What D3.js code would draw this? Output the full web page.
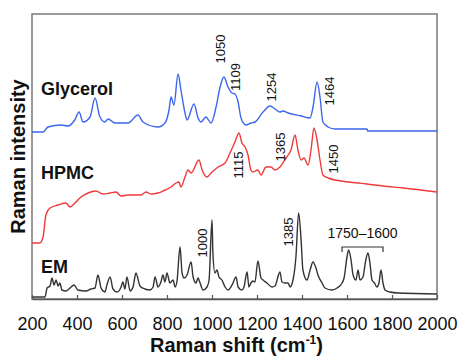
<!DOCTYPE html>
<html>
<head>
<meta charset="utf-8">
<script src="https://cdn.jsdelivr.net/npm/d3@7"></script>
<style>
body { margin: 0; background: #fff; }
text { font-family: Arial, "Liberation Sans", sans-serif; fill: #111; }
</style>
</head>
<body>
<div id="chart"></div>
<script>
// Raman spectra, intensities in arbitrary units (spectra offset for display)
var xTicks = [200, 400, 600, 800, 1000, 1200, 1400, 1600, 1800, 2000];

var glycerol = [[200,167],[250,167],[271,172],[329,174],[360,173],[390,179],[409,187],[427,177],[458,182],[480,201],
  [502,182],[524,177],[538,180],[569,176],[627,176],[671,184],[693,177],[760,172],[791,176],[809,189],[818,202],
  [831,194],[849,225],[862,209],[880,186],[889,179],[920,195],[938,181],[951,177],[973,182],[996,176],[1018,192],
  [1036,212],[1053,222],[1071,212],[1089,206],[1102,205],[1116,197],[1129,181],[1151,174],[1173,176],[1191,177],
  [1227,187],[1258,193],[1280,190],[1302,187],[1316,188],[1338,186],[1396,183],[1436,181],[1449,192],[1467,217],
  [1480,202],[1493,177],[1516,172],[1547,170],[1689,170],[1692,168],[2000,168]];

var hpmc = [[200,56],[235,56],[249,62],[262,84],[280,91],[316,94],[351,96],[369,92],[391,96],[418,102],[449,106],
  [484,108],[516,105],[547,106],[573,107],[596,103],[627,104],[658,104],[684,104],[707,107],[729,105],[760,106],
  [791,109],[818,112],[840,116],[853,117],[862,112],[880,122],[893,129],[907,126],[942,139],[956,129],[978,122],
  [996,126],[1027,132],[1058,136],[1080,146],[1102,157],[1120,166],[1133,156],[1147,152],[1160,144],[1173,129],
  [1182,127],[1204,129],[1218,124],[1240,132],[1262,132],[1280,129],[1302,132],[1329,141],[1351,149],[1369,164],
  [1382,149],[1396,139],[1409,141],[1427,134],[1440,149],[1453,171],[1467,159],[1480,139],[1493,124],[1516,121],
  [1573,118],[1649,116],[1689,115],[1760,113],[1850,111],[2000,107]];

var em = [[200,2],[258,2],[267,11],[280,13],[289,21],[298,14],[307,19],[316,13],[324,16],[333,9],[351,8],[369,11],
  [387,14],[404,9],[440,8],[462,10],[480,11],[493,24],[507,11],[524,7],[533,14],[547,22],[560,10],[578,7],[596,12],
  [604,17],[613,10],[622,22],[636,8],[649,12],[662,26],[680,13],[702,10],[724,9],[738,12],[747,22],[760,12],
  [773,17],[782,24],[791,17],[800,26],[813,16],[827,19],[836,12],[844,17],[858,52],[867,26],[876,21],[889,24],
  [907,37],[916,22],[929,16],[938,21],[947,16],[960,9],[978,12],[987,19],[1000,79],[1004,46],[1013,26],[1022,29],
  [1031,22],[1044,19],[1058,12],[1071,9],[1089,14],[1107,22],[1116,12],[1133,9],[1142,12],[1156,27],[1164,12],
  [1173,16],[1182,18],[1191,17],[1204,38],[1218,21],[1227,19],[1244,16],[1267,12],[1280,13],[1302,27],[1311,17],
  [1324,16],[1338,16],[1347,12],[1360,19],[1373,42],[1385,86],[1396,59],[1404,29],[1422,19],[1436,29],[1449,37],
  [1462,31],[1471,24],[1489,16],[1502,11],[1533,9],[1556,11],[1578,16],[1587,21],[1600,42],[1607,49],[1618,39],
  [1627,24],[1640,19],[1649,29],[1658,19],[1671,22],[1682,37],[1693,46],[1702,36],[1711,19],[1722,16],[1733,12],
  [1742,16],[1751,29],[1760,16],[1769,9],[1791,7],[1827,6],[2000,5]];

var seriesNames = ["Glycerol", "HPMC", "EM"];
var seriesColors = ["#3c66ee", "#ee3a3a", "#333333"];

// peak labels: text, wavenumber of label centre, intensity of label centre
var peakText = ["1050", "1109", "1254", "1464", "1115", "1365", "1450", "1000", "1385"];
var peakWn   = [1036, 1102, 1262, 1520, 1116, 1302, 1538, 956, 1338];
var peakInt  = [250, 222, 212, 208, 134, 152, 140, 56, 67];

var width = 459, height = 356;
var margin = {top: 14, right: 22, bottom: 57, left: 32};

var svg = d3.select("#chart").append("svg")
    .attr("width", width).attr("height", height);

var x = d3.scaleLinear().domain([200, 2000]).range([margin.left, width - margin.right]);
var y = d3.scaleLinear().domain([0, 285]).range([height - margin.bottom, margin.top]);

// frame
svg.append("rect")
    .attr("x", x(200)).attr("y", y(285))
    .attr("width", x(2000) - x(200)).attr("height", y(0) - y(285))
    .attr("fill", "none").attr("stroke", "#7a7a7a").attr("stroke-width", 1.5);

var line = d3.line()
    .x(function(d){ return x(d[0]); })
    .y(function(d){ return y(d[1]); })
    .curve(d3.curveMonotoneX);

[glycerol, hpmc, em].forEach(function(s, i){
    svg.append("path")
        .datum(s)
        .attr("fill", "none")
        .attr("stroke", seriesColors[i])
        .attr("stroke-width", 1.4)
        .attr("stroke-linejoin", "round")
        .attr("d", line);
});

// x axis, ticks inward
var xAxis = svg.append("g")
    .attr("transform", "translate(0," + y(0) + ")")
    .call(d3.axisBottom(x).tickValues(xTicks).tickFormat(d3.format("d"))
        .tickSizeInner(-4).tickSizeOuter(0).tickPadding(18));
xAxis.select(".domain").attr("stroke", "#555").attr("stroke-width", 1.5);
xAxis.selectAll(".tick line").attr("stroke", "#555").attr("stroke-width", 1.2);
xAxis.selectAll(".tick text").attr("font-size", 18).attr("fill", "#111")
    .attr("font-family", "Arial, 'Liberation Sans', sans-serif");

// axis titles
var xt = svg.append("text")
    .attr("x", (x(200) + x(2000)) / 2 + 2).attr("y", 352)
    .attr("text-anchor", "middle").attr("font-size", 20).attr("font-weight", "bold");
xt.append("tspan").text("Raman shift (cm");
xt.append("tspan").attr("font-size", 12).attr("dy", -8).text("-1");
xt.append("tspan").attr("dy", 8).text(")");

svg.append("text")
    .attr("transform", "translate(25," + ((y(0) + y(285)) / 2) + ") rotate(-90)")
    .attr("text-anchor", "middle").attr("font-size", 20).attr("font-weight", "bold")
    .text("Raman intensity");

// series names
var nameInt = [204, 120, 26];
seriesNames.forEach(function(n, i){
    svg.append("text")
        .attr("x", x(240)).attr("y", y(nameInt[i]))
        .attr("font-size", 18).attr("font-weight", "bold")
        .text(n);
});

// rotated peak labels
peakText.forEach(function(t, i){
    svg.append("text")
        .attr("transform", "translate(" + x(peakWn[i]) + "," + y(peakInt[i]) + ") rotate(-90)")
        .attr("text-anchor", "middle").attr("dy", "0.35em")
        .attr("font-size", 13)
        .text(t);
});

// bracket 1750-1600
var bx0 = 1578, bx1 = 1760, by = 52;
svg.append("path")
    .attr("d", "M" + x(bx0) + "," + y(by - 5) + "V" + y(by) + "H" + x(bx1) + "V" + y(by - 5))
    .attr("fill", "none").attr("stroke", "#333").attr("stroke-width", 1.2);
svg.append("text")
    .attr("x", x((bx0 + bx1) / 2)).attr("y", y(66)).attr("dy", "0.35em")
    .attr("text-anchor", "middle").attr("font-size", 14)
    .text("1750–1600");
</script>
</body>
</html>
